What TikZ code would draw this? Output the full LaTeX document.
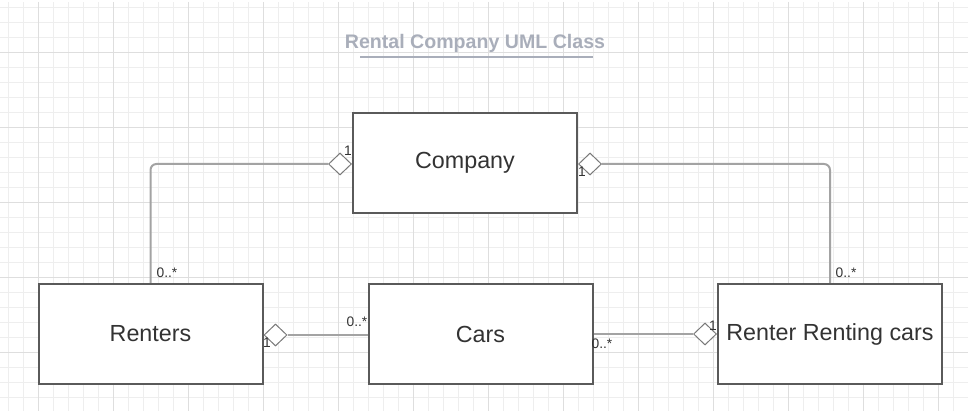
\documentclass[tikz,border=0pt]{standalone}
\usepackage{fontspec}
\setmainfont{Liberation Sans}
\usetikzlibrary{shapes.geometric}

\definecolor{gridminor}{HTML}{EEEEEE}
\definecolor{gridmajor}{HTML}{DEDEDE}
\definecolor{boxline}{HTML}{5A5A5A}
\definecolor{connline}{HTML}{A3A3A3}
\definecolor{aggline}{HTML}{7A7A7A}
\definecolor{textgray}{HTML}{333333}
\definecolor{titlegray}{HTML}{A9AEBA}

\begin{document}
\begin{tikzpicture}[
    x=1pt, y=-1pt,
    classbox/.style={
        rectangle,
        draw=boxline,
        line width=2pt,
        fill=white,
        minimum width=224pt,
        minimum height=100pt,
        font=\fontsize{23.3}{27}\selectfont,
        text=textgray,
        align=center
    },
    agg/.style={
        diamond,
        draw=aggline,
        line width=1pt,
        fill=white,
        minimum width=23pt,
        minimum height=22pt,
        inner sep=0pt
    },
    conn/.style={draw=connline, line width=2pt, rounded corners=6pt},
    mult/.style={font=\fontsize{13.8}{15}\selectfont, text=textgray, inner sep=0pt},
]

\useasboundingbox (0,0) rectangle (968,411);

% === GRID (fondo) ===
\foreach \i in {0,...,64} {
    \draw[gridminor, line width=0.8pt] (8.3+15*\i,2) -- (8.3+15*\i,411);
}
\foreach \i in {0,...,27} {
    \draw[gridminor, line width=0.8pt] (0,7.3+15*\i) -- (968,7.3+15*\i);
}
\foreach \i in {0,...,12} {
    \draw[gridmajor, line width=0.8pt] (38.3+75*\i,2) -- (38.3+75*\i,411);
}
\foreach \i in {0,...,4} {
    \draw[gridmajor, line width=0.8pt] (0,52.3+75*\i) -- (968,52.3+75*\i);
}

% Title
\node[font=\bfseries\fontsize{19.6}{22}\selectfont, text=titlegray, anchor=base]
    (title) at (475,48.5) {Rental Company UML Class};
\draw[titlegray, line width=2pt] (360,57) -- (593,57);

% === CLASSES ===
\node[classbox] (company) at (465,163) {Company};
\node[classbox] (renters) at (150.5,334) {Renters};
\node[classbox] (cars) at (480.5,334) {Cars};
\node[classbox] (rrc) at (830,334) {Renter Renting cars};

% Aggregation diamonds
\node[agg, anchor=east] (aggCompL) at ([yshift=-1pt]company.west) {};
\node[agg, anchor=west] (aggCompR) at ([yshift=-1pt]company.east) {};
\node[agg, anchor=west] (aggRenters) at ([yshift=-1pt]renters.east) {};
\node[agg, anchor=east] (aggRrc) at (rrc.west) {};

% Connectors
\draw[conn] (renters.north) |- (aggCompL.west);
\draw[conn] (aggCompR.east) -| (rrc.north);
\draw[conn] (aggRenters.east) -- (aggRenters.east -| cars.west);
\draw[conn] (cars.east) -- (aggRrc.west);

% Multiplicities
\node[mult] (mCompL) at (348,151) {1};
\node[mult] (mCompR) at (582,172) {1};
\node[mult] (mRentersUp) at (167,273) {0..*};
\node[mult] (mRrcUp) at (846,273) {0..*};
\node[mult] (mCarsL) at (357,322) {0..*};
\node[mult] (mRentersR) at (267,343) {1};
\node[mult] (mCarsR) at (602,344) {0..*};
\node[mult] (mRrcL) at (713,326) {1};

\end{tikzpicture}
\end{document}
